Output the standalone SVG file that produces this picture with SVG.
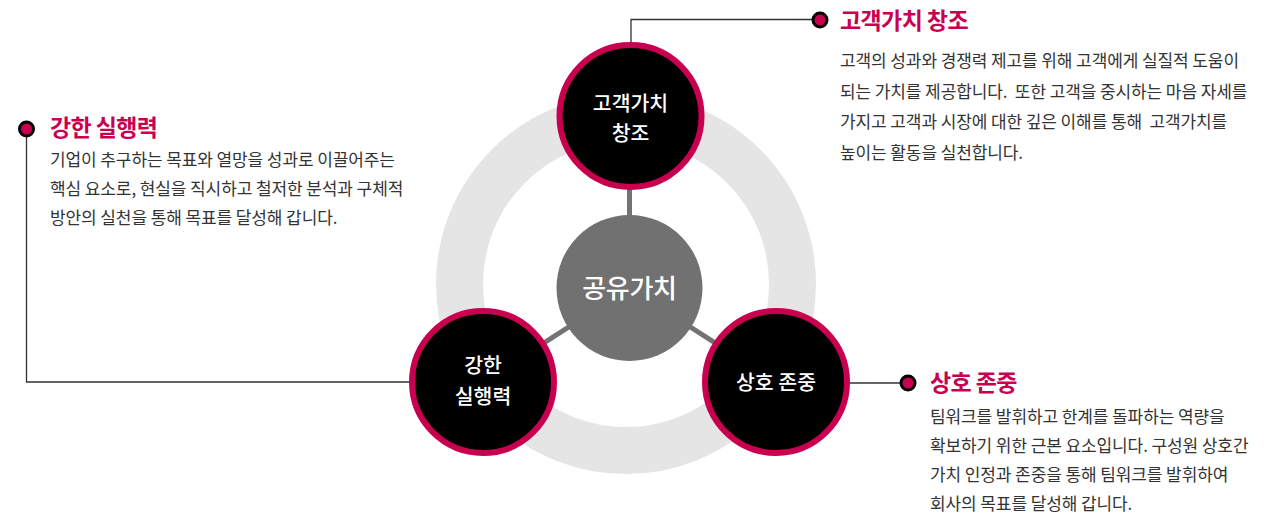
<svg xmlns="http://www.w3.org/2000/svg" width="1279" height="515" viewBox="0 0 1279 515">
<style>
.ring{fill:none;stroke:#e5e5e5;stroke-width:47}
.stem{stroke:#737373;stroke-width:5}
.lead{fill:none;stroke:#333;stroke-width:1.3}
.dot{fill:#c8004f;stroke:#000;stroke-width:3}
.node{fill:#000;stroke:#c8004f;stroke-width:6}
.hub{fill:#717171}
.nt{font-family:"Noto Sans CJK KR","Noto Sans",sans-serif;font-size:20.5px;fill:#fff;text-anchor:middle;font-weight:500}
.ht{font-family:"Noto Sans CJK KR","Noto Sans",sans-serif;font-size:26px;fill:#fff;text-anchor:middle;font-weight:500;letter-spacing:-0.3px}
.title{font-family:"Noto Sans CJK KR","Noto Sans",sans-serif;font-size:23px;fill:#c8004f;font-weight:700;letter-spacing:-0.6px}
.body{font-family:"Noto Sans CJK KR","Noto Sans",sans-serif;font-size:17px;fill:#333;letter-spacing:-0.1px;white-space:pre}
</style>
<circle class="ring" cx="626" cy="284" r="166.5"/>
<g id="connectors">
<line class="stem" x1="629.5" y1="116" x2="629.5" y2="288"/>
<line class="stem" x1="629.5" y1="288" x2="483" y2="382"/>
<line class="stem" x1="629.5" y1="288" x2="776" y2="382"/>
<polyline class="lead" points="631,42 631,19.5 820,19.5"/>
<polyline class="lead" points="26.5,129 26.5,382 409,382"/>
<line class="lead" x1="850" y1="383" x2="908" y2="383"/>
<circle class="dot" cx="820" cy="20" r="7"/>
<circle class="dot" cx="26.5" cy="129" r="7"/>
<circle class="dot" cx="908" cy="383" r="7"/>
</g>
<g id="hub">
<circle class="hub" cx="629.5" cy="288" r="73"/>
<text class="ht" x="629.5" y="298">공유가치</text>
</g>
<g id="node-top">
<circle class="node" cx="630.5" cy="116" r="71"/>
<text class="nt" x="630.5" y="111">고객가치</text>
<text class="nt" x="630.5" y="141">창조</text>
</g>
<g id="node-left">
<circle class="node" cx="483" cy="382" r="71"/>
<text class="nt" x="483" y="373">강한</text>
<text class="nt" x="483" y="404">실행력</text>
</g>
<g id="node-right">
<circle class="node" cx="776" cy="382" r="71"/>
<text class="nt" x="776" y="390">상호 존중</text>
</g>
<g id="desc-top">
<text class="title" x="840" y="29">고객가치 창조</text>
<text class="body" x="840" y="67">고객의 성과와 경쟁력 제고를 위해 고객에게 실질적 도움이</text>
<text class="body" x="840" y="97.5">되는 가치를 제공합니다.  또한 고객을 중시하는 마음 자세를</text>
<text class="body" x="840" y="128">가지고 고객과 시장에 대한 깊은 이해를 통해  고객가치를</text>
<text class="body" x="840" y="158.5">높이는 활동을 실천합니다.</text>
</g>
<g id="desc-left">
<text class="title" x="50" y="136">강한 실행력</text>
<text class="body" x="50" y="166">기업이 추구하는 목표와 열망을 성과로 이끌어주는</text>
<text class="body" x="50" y="195">핵심 요소로, 현실을 직시하고 철저한 분석과 구체적</text>
<text class="body" x="50" y="224">방안의 실천을 통해 목표를 달성해 갑니다.</text>
</g>
<g id="desc-right">
<text class="title" x="930" y="391">상호 존중</text>
<text class="body" x="930" y="423">팀워크를 발휘하고 한계를 돌파하는 역량을</text>
<text class="body" x="930" y="452">확보하기 위한 근본 요소입니다. 구성원 상호간</text>
<text class="body" x="930" y="481">가치 인정과 존중을 통해 팀워크를 발휘하여</text>
<text class="body" x="930" y="510">회사의 목표를 달성해 갑니다.</text>
</g>
</svg>
